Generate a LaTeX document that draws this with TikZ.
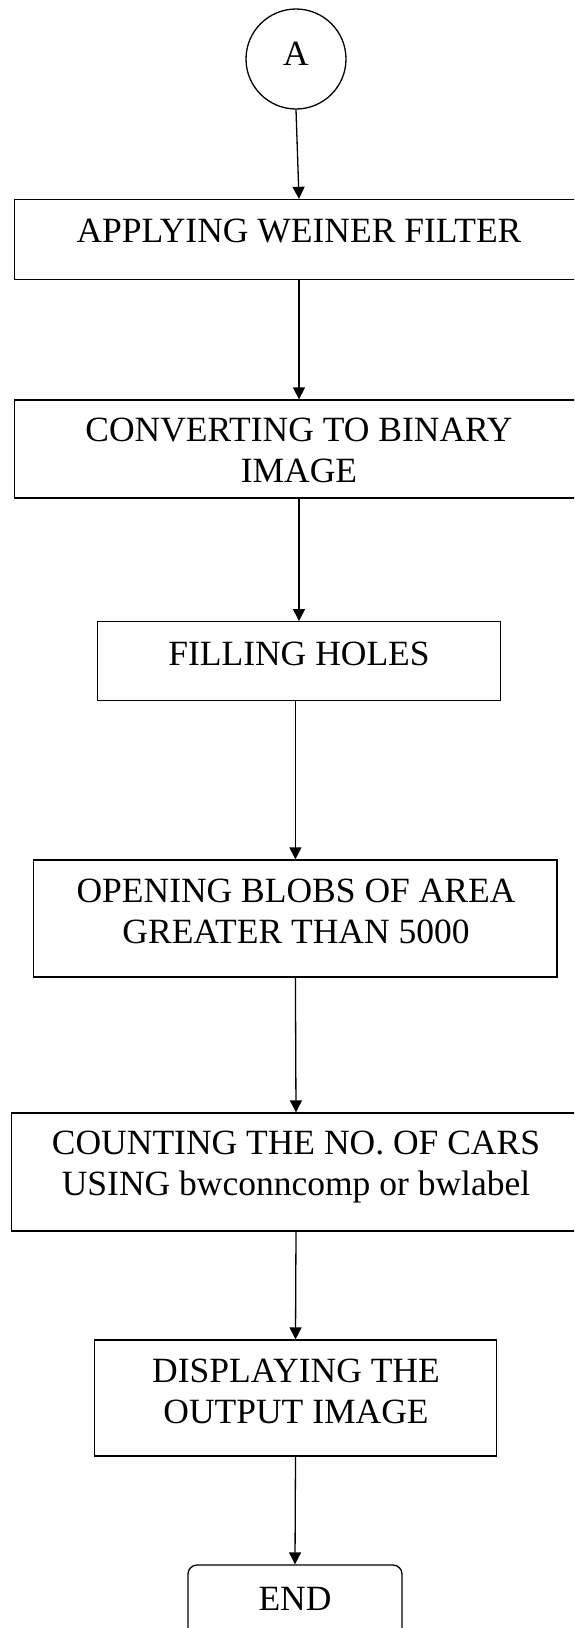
\documentclass[tikz,border=0pt]{standalone}
\usepackage{fontspec}
\setmainfont{Liberation Serif}
\usetikzlibrary{arrows.meta,calc}
\begin{document}
\begin{tikzpicture}[x=1pt,y=-1pt,
  box/.style={draw, line width=1.3pt, rectangle, inner sep=0pt},
  lbl/.style={font=\fontsize{35.5}{41}\selectfont, align=center, inner sep=0pt, anchor=base},
  arr/.style={-{Triangle[length=12pt,width=12pt]}, line width=1.3pt}]
\path[use as bounding box] (0,0) rectangle (574,1628);
\clip (0,0) rectangle (574,1628);
% start connector
\node[circle, draw, line width=1.3pt, minimum size=100pt, inner sep=0pt] (A) at (296,59) {};
\node[lbl] (At) at (296,65) {A};
% boxes
\node[box, minimum width=568.8pt, minimum height=80pt] (b1) at (299,239.5) {};
\node[lbl] (b1t) at (299,242) {APPLYING WEINER FILTER};
\node[box, minimum width=568.8pt, minimum height=98pt] (b2) at (299,449) {};
\node[lbl] (b2t) at (299,482) {CONVERTING TO BINARY\\IMAGE};
\node[box, minimum width=402.7pt, minimum height=79pt] (b3) at (299,661.2) {};
\node[lbl] (b3t) at (299,665) {FILLING HOLES};
\node[box, minimum width=523.3pt, minimum height=117pt] (b4) at (295.4,918.5) {};
\node[lbl] (b4t) at (296,943) {OPENING BLOBS OF AREA\\GREATER THAN 5000};
\node[box, minimum width=568.6pt, minimum height=118pt] (b5) at (296,1172) {};
\node[lbl] (b5t) at (296,1195) {COUNTING THE NO. OF CARS\\USING bwconncomp or bwlabel};
\node[box, minimum width=402.3pt, minimum height=116pt] (b6) at (295.5,1398) {};
\node[lbl] (b6t) at (296,1423) {DISPLAYING THE\\OUTPUT IMAGE};
\node[box, rounded corners=9pt, minimum width=214pt, minimum height=75pt] (E) at (295,1602.5) {};
\node[lbl] (Et) at (295,1610) {END};
% connectors
\draw[arr] (A.south) -- (b1.north);
\draw[arr] (b1.south) -- (b2.north);
\draw[arr] (b2.south) -- (b3.north);
\draw[arr] (b3.south -| b4.north) -- (b4.north);
\draw[arr] (b4.south) -- (b5.north);
\draw[arr] (b5.south) -- (b6.north);
\draw[arr] (b6.south) -- (E.north);
\end{tikzpicture}
\end{document}
